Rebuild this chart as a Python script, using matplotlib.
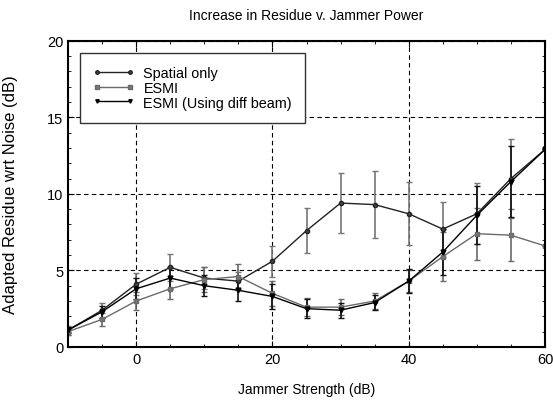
import matplotlib
matplotlib.use("Agg")
import matplotlib.pyplot as plt
from matplotlib.lines import Line2D
from matplotlib.ticker import MultipleLocator

plt.rcParams['font.family'] = ['Liberation Sans', 'DejaVu Sans']

jammer = [-10, -5, 0, 5, 10, 15, 20, 25, 30, 35, 40, 45, 50, 55, 60]

spatial = [1.1, 2.4, 4.1, 5.2, 4.5, 4.3, 5.6, 7.6, 9.4, 9.3, 8.7, 7.7, 8.7, 11.0, 12.9]
spatial_err = [0.3, 0.5, 0.7, 0.9, 0.7, 0.6, 1.0, 1.45, 1.95, 2.2, 2.05, 1.8, 2.0, 2.6, 0.0]

esmi = [1.0, 1.8, 3.0, 3.8, 4.4, 4.6, 3.5, 2.6, 2.6, 3.0, 4.3, 5.9, 7.4, 7.3, 6.6]
esmi_err = [0.2, 0.4, 0.6, 0.7, 0.8, 0.8, 0.8, 0.6, 0.5, 0.5, 0.7, 1.6, 1.7, 1.7, 0.0]

diff = [1.1, 2.3, 3.8, 4.5, 4.0, 3.7, 3.3, 2.5, 2.4, 2.9, 4.3, 6.2, 8.6, 10.8, 12.9]
diff_err = [0.2, 0.4, 0.7, 0.7, 0.7, 0.7, 0.8, 0.6, 0.5, 0.5, 0.8, 1.5, 1.9, 2.3, 0.0]

labels = ['Spatial only', 'ESMI', 'ESMI (Using diff beam)']

fig = plt.figure(figsize=(5.53, 4.06), dpi=100)
ax = fig.add_axes([0.123, 0.143, 0.8625, 0.754])

styles = [
    dict(color='#222222', ecolor='#777777', marker='o', ms=3, mfc='#444444'),
    dict(color='#6a6a6a', ecolor='#6a6a6a', marker='s', ms=3, mfc='#777777'),
    dict(color='black', ecolor='#111111', marker='v', ms=3.5, mfc='black'),
]
handles = []
for ys, es, st, lab in zip([spatial, esmi, diff], [spatial_err, esmi_err, diff_err], styles, labels):
    ax.errorbar(jammer, ys, yerr=es, lw=1, elinewidth=1.2, capsize=2, **st)
    handles.append(Line2D([], [], color=st['color'], marker=st['marker'],
                          ms=2.5, mfc=st['mfc'], lw=1, label=lab))

ax.set_xlim(-10, 60)
ax.set_ylim(0, 20)
ax.xaxis.set_major_locator(MultipleLocator(20))
ax.xaxis.set_minor_locator(MultipleLocator(5))
ax.yaxis.set_major_locator(MultipleLocator(5))
ax.yaxis.set_minor_locator(MultipleLocator(1))
ax.tick_params(which='both', direction='in', top=True, right=True, labelsize=10.5)
ax.tick_params(which='major', length=4)
ax.tick_params(which='minor', length=2)
ax.grid(True, which='major', color='black', linestyle=(0, (4, 3)), lw=0.8)
for s in ax.spines.values():
    s.set_linewidth(1.5)

ax.set_title('Increase in Residue v. Jammer Power', fontsize=10, pad=16)
ax.set_xlabel('Jammer Strength (dB)', fontsize=10)
ax.xaxis.set_label_coords(0.5, -0.115)
ax.set_ylabel('Adapted Residue wrt Noise (dB)', fontsize=12)
ax.yaxis.set_label_coords(-0.105, 0.5)

leg = ax.legend(handles=handles, loc='upper left', bbox_to_anchor=(0.025, 0.96),
                fontsize=10.4, handlelength=2.9, handletextpad=0.6, numpoints=2,
                fancybox=False, framealpha=1, edgecolor='#333333',
                borderpad=0.9, labelspacing=0.05, borderaxespad=0)
leg.get_frame().set_linewidth(1)

fig.savefig('out.png', dpi=100)
